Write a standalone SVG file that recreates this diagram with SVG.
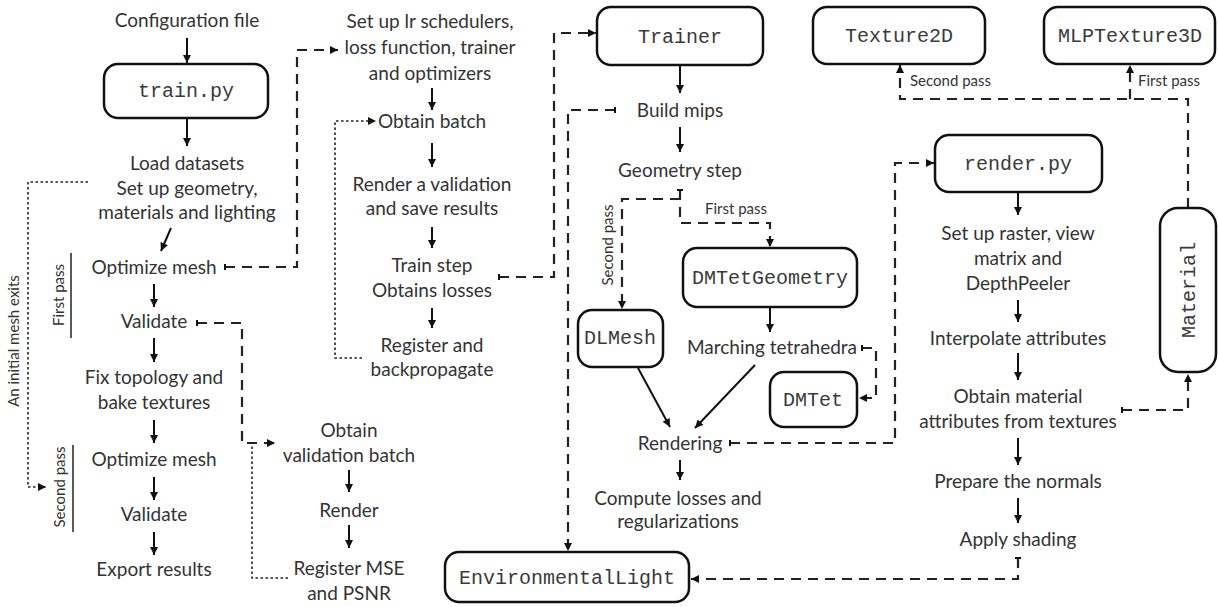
<svg xmlns="http://www.w3.org/2000/svg" width="1218" height="607" viewBox="0 0 1218 607">
  <style>
    .t { font-family: Lato, "Noto Sans", sans-serif; font-size: 19px; fill: #333; text-anchor: middle; }
    .s { font-family: Lato, "Noto Sans", sans-serif; font-size: 15px; fill: #333; }
    .m { font-family: "Liberation Mono", "DejaVu Sans Mono", monospace; font-size: 20px; fill: #3a3a3a; text-anchor: middle; }
    .box { fill: #fff; stroke: #111; stroke-width: 2.5; }
    .sol { fill: none; stroke: #111; stroke-width: 2; marker-end: url(#ah); }
    .dash { fill: none; stroke: #222; stroke-width: 2.2; stroke-dasharray: 10 7; }
    .tee { marker-start: url(#tee); }
    .arr { marker-end: url(#ah); }
    .dot { fill: none; stroke: #222; stroke-width: 1.6; stroke-dasharray: 2.5 2.5; }
    .rule { stroke: #222; stroke-width: 1.5; }
  </style>
  <defs>
    <marker id="ah" viewBox="0 0 10 10" refX="10" refY="5" markerWidth="9" markerHeight="8" orient="auto" markerUnits="userSpaceOnUse">
      <path d="M0,0 L10,5 L0,10 z" fill="#111"/>
    </marker>
    <marker id="tee" viewBox="0 0 4 10" refX="2" refY="5" markerWidth="2.4" markerHeight="9" orient="auto" markerUnits="userSpaceOnUse">
      <rect width="4" height="10" fill="#111"/>
    </marker>
  </defs>
  <rect width="1218" height="607" fill="#fff"/>

  <!-- connectors -->
  <g id="connectors">
    <!-- solid flow arrows -->
    <path class="sol" d="M187,38 V63"/>
    <path class="sol" d="M187,118 V146"/>
    <path class="sol" d="M171,228 L161,251"/>
    <path class="sol" d="M154,284 V307"/>
    <path class="sol" d="M154,338 V362"/>
    <path class="sol" d="M154,420 V443"/>
    <path class="sol" d="M154,477 V500"/>
    <path class="sol" d="M154,532 V555"/>
    <path class="sol" d="M432,88 V110"/>
    <path class="sol" d="M432,143 V167"/>
    <path class="sol" d="M432,227 V248"/>
    <path class="sol" d="M432,308 V328"/>
    <path class="sol" d="M349,470 V492"/>
    <path class="sol" d="M349,525 V548"/>
    <path class="sol" d="M680,65 V93"/>
    <path class="sol" d="M680,127 V152"/>
    <path class="sol" d="M770,307 V332"/>
    <path class="sol" d="M638,368 L670,427"/>
    <path class="sol" d="M755,365 L695,428"/>
    <path class="sol" d="M680,460 V480"/>
    <path class="sol" d="M1018,192 V215"/>
    <path class="sol" d="M1018,300 V322"/>
    <path class="sol" d="M1018,353 V380"/>
    <path class="sol" d="M1018,438 V465"/>
    <path class="sol" d="M1018,498 V523"/>

    <!-- dashed calls -->
    <path class="dash tee arr" d="M225,267 H297 V50 H338"/>
    <path class="dash tee arr" d="M499,277 H554 V33 H596"/>
    <path class="dash tee arr" d="M615,110 H568 V551"/>
    <path class="dash tee arr" d="M197,323 H242 V443 H275"/>
    <path class="dash tee arr" d="M680,190 V223 H770 V247"/>
    <path class="dash arr" d="M680,199 H622 V309"/>
    <path class="dash tee arr" d="M862,348 H876 V398 H859"/>
    <path class="dash tee arr" d="M730,443 H895 V163 H934"/>
    <path class="dash tee arr" d="M1122,410 H1188 V374"/>
    <path class="dash tee arr" d="M1188,208 V99 H900 V65"/>
    <path class="dash arr" d="M1130,99 V65"/>
    <path class="dash tee arr" d="M1018,558 V579 H691"/>

    <!-- dotted loops -->
    <path class="dot arr" d="M88,182 H28 V487 H46"/>
    <path class="dot arr" d="M362,358 H335 V121 H376"/>
    <path class="dot" d="M288,578 H252 V443"/>
  </g>

  <!-- side labels -->
  <g id="pass-labels">
    <text class="s" text-anchor="middle" transform="translate(64,295) rotate(-90)">First pass</text>
    <line class="rule" x1="71" y1="253" x2="71" y2="338"/>
    <text class="s" text-anchor="middle" transform="translate(65,487) rotate(-90)">Second pass</text>
    <line class="rule" x1="73" y1="445" x2="73" y2="532"/>
    <text class="s" text-anchor="middle" transform="translate(19,341) rotate(-90)">An initial mesh exits</text>
    <text class="s" text-anchor="middle" x="736" y="214">First pass</text>
    <text class="s" text-anchor="middle" transform="translate(613,245) rotate(-90)">Second pass</text>
    <text class="s" x="910" y="86">Second pass</text>
    <text class="s" x="1138" y="86">First pass</text>
  </g>

  <!-- train.py column -->
  <g id="config"><text class="t" x="187" y="27">Configuration file</text></g>
  <g id="train-py">
    <rect class="box" x="104" y="64" width="164" height="54" rx="14"/>
    <text class="m" x="186" y="97">train.py</text>
  </g>
  <g id="load">
    <text class="t" x="187" y="170">Load datasets</text>
    <text class="t" x="187" y="195">Set up geometry,</text>
    <text class="t" x="187" y="219">materials and lighting</text>
  </g>
  <g id="optimize1"><text class="t" x="154" y="274">Optimize mesh</text></g>
  <g id="validate1"><text class="t" x="154" y="328">Validate</text></g>
  <g id="fix-topology">
    <text class="t" x="154" y="384">Fix topology and</text>
    <text class="t" x="154" y="409">bake textures</text>
  </g>
  <g id="optimize2"><text class="t" x="154" y="466">Optimize mesh</text></g>
  <g id="validate2"><text class="t" x="154" y="521">Validate</text></g>
  <g id="export"><text class="t" x="154" y="576">Export results</text></g>

  <!-- optimization loop -->
  <g id="setup">
    <text class="t" x="430" y="28">Set up lr schedulers,</text>
    <text class="t" x="430" y="54">loss function, trainer</text>
    <text class="t" x="430" y="80">and optimizers</text>
  </g>
  <g id="obtain-batch"><text class="t" x="432" y="128">Obtain batch</text></g>
  <g id="render-validation">
    <text class="t" x="432" y="191">Render a validation</text>
    <text class="t" x="432" y="215">and save results</text>
  </g>
  <g id="train-step">
    <text class="t" x="432" y="272">Train step</text>
    <text class="t" x="432" y="297">Obtains losses</text>
  </g>
  <g id="register">
    <text class="t" x="432" y="352">Register and</text>
    <text class="t" x="432" y="376">backpropagate</text>
  </g>

  <!-- validation loop -->
  <g id="obtain-val">
    <text class="t" x="349" y="437">Obtain</text>
    <text class="t" x="349" y="462">validation batch</text>
  </g>
  <g id="render-val"><text class="t" x="349" y="517">Render</text></g>
  <g id="register-mse">
    <text class="t" x="349" y="575">Register MSE</text>
    <text class="t" x="349" y="600">and PSNR</text>
  </g>

  <!-- trainer -->
  <g id="trainer">
    <rect class="box" x="597" y="7" width="166" height="58" rx="14"/>
    <text class="m" x="680" y="43">Trainer</text>
  </g>
  <g id="build-mips"><text class="t" x="680" y="117">Build mips</text></g>
  <g id="geometry-step"><text class="t" x="680" y="177">Geometry step</text></g>
  <g id="dmtet-geometry">
    <rect class="box" x="683" y="248" width="174" height="59" rx="14"/>
    <text class="m" x="770" y="284">DMTetGeometry</text>
  </g>
  <g id="dlmesh">
    <rect class="box" x="578" y="310" width="85" height="57" rx="14"/>
    <text class="m" x="620" y="344">DLMesh</text>
  </g>
  <g id="marching"><text class="t" x="772" y="354">Marching tetrahedra</text></g>
  <g id="dmtet">
    <rect class="box" x="770" y="372" width="87" height="55" rx="14"/>
    <text class="m" x="813" y="406">DMTet</text>
  </g>
  <g id="rendering"><text class="t" x="680" y="450">Rendering</text></g>
  <g id="compute-losses">
    <text class="t" x="678" y="505">Compute losses and</text>
    <text class="t" x="678" y="528">regularizations</text>
  </g>
  <g id="environmental-light">
    <rect class="box" x="445" y="552" width="244" height="50" rx="14"/>
    <text class="m" x="567" y="584">EnvironmentalLight</text>
  </g>

  <!-- textures and rendering -->
  <g id="texture2d">
    <rect class="box" x="813" y="7" width="172" height="57" rx="14"/>
    <text class="m" x="899" y="42">Texture2D</text>
  </g>
  <g id="mlptexture3d">
    <rect class="box" x="1044" y="7" width="171" height="57" rx="14"/>
    <text class="m" x="1130" y="42">MLPTexture3D</text>
  </g>
  <g id="render-py">
    <rect class="box" x="935" y="135" width="167" height="57" rx="14"/>
    <text class="m" x="1018" y="170">render.py</text>
  </g>
  <g id="raster-setup">
    <text class="t" x="1018" y="240">Set up raster, view</text>
    <text class="t" x="1018" y="265">matrix and</text>
    <text class="t" x="1018" y="290">DepthPeeler</text>
  </g>
  <g id="interpolate"><text class="t" x="1018" y="345">Interpolate attributes</text></g>
  <g id="material-attrs">
    <text class="t" x="1018" y="403">Obtain material</text>
    <text class="t" x="1018" y="428">attributes from textures</text>
  </g>
  <g id="normals"><text class="t" x="1018" y="488">Prepare the normals</text></g>
  <g id="shading"><text class="t" x="1018" y="546">Apply shading</text></g>
  <g id="material">
    <rect class="box" x="1160" y="208" width="56" height="164" rx="18"/>
    <text class="m" transform="translate(1195,290) rotate(-90)">Material</text>
  </g>
</svg>
